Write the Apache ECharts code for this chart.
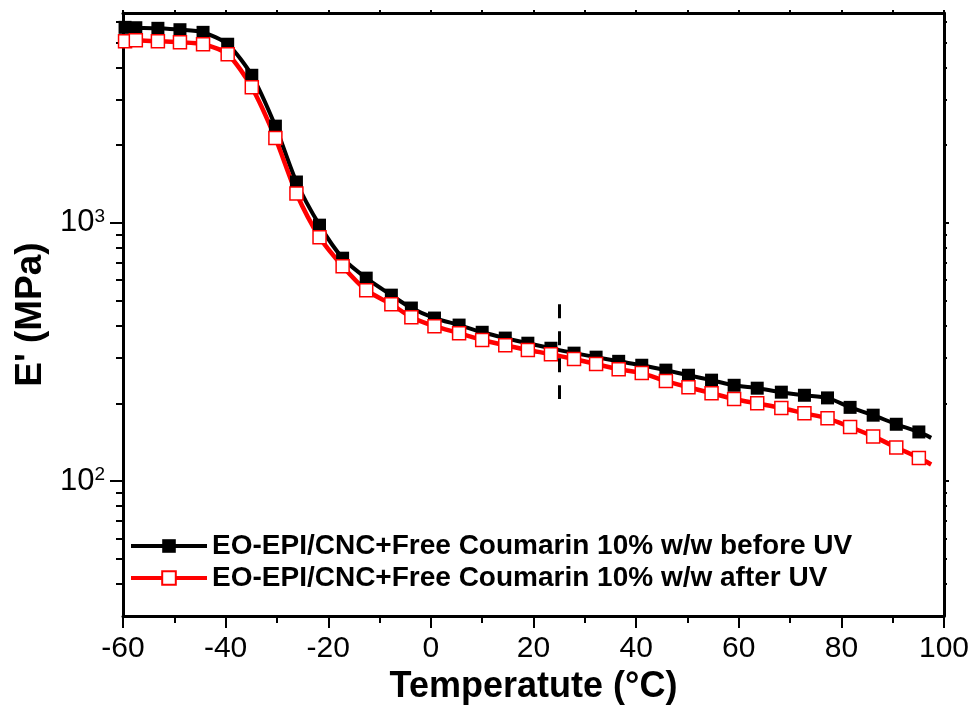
<!DOCTYPE html>
<html>
<head>
<meta charset="utf-8">
<title>E' vs temperature</title>
<script src="https://cdn.jsdelivr.net/npm/echarts@6.0.0/dist/echarts.min.js"></script>
<style>
  html, body { margin: 0; padding: 0; background: #fff; }
  #chart { width: 974px; height: 710px; }
</style>
</head>
<body>
<div id="chart"></div>
<script>
// Temperature (°C) of each plotted point
const temps = [-59.6, -57.5, -53.2, -48.9, -44.4, -39.6, -34.9, -30.3, -26.2, -21.7,
  -17.2, -12.6, -7.7, -3.8, 0.7, 5.5, 10.0, 14.5, 18.9, 23.4,
  27.9, 32.2, 36.6, 41.1, 45.8, 50.2, 54.7, 59.1, 63.6, 68.3,
  72.8, 77.3, 81.7, 86.2, 90.7, 95.1, 97.5];

// E' (MPa) before UV
const eBefore = [5720, 5700, 5670, 5600, 5470, 4920, 3730, 2370, 1440, 980,
  730, 611, 525, 468, 428, 402, 377, 358, 342, 327,
  313, 302, 291, 281, 269, 257, 246, 235, 229, 221,
  215, 210, 193, 180, 166, 155, 147];

// E' (MPa) after UV
const eAfter = [5050, 5100, 5050, 5010, 4920, 4500, 3350, 2130, 1300, 880,
  680, 549, 484, 431, 398, 374, 352, 336, 322, 310,
  297, 284, 271, 262, 244, 231, 219, 208, 200, 192,
  183, 175, 162, 149, 135, 123, 116];

const seriesNames = [
  'EO-EPI/CNC+Free Coumarin 10% w/w before UV',
  'EO-EPI/CNC+Free Coumarin 10% w/w after UV'
];

const majorY = [100, 1000];
const minorY = [40, 50, 60, 70, 80, 90, 200, 300, 400, 500, 600, 700, 800, 900,
  2000, 3000, 4000, 5000, 6000];

const FONT = 'Liberation Sans, Arial, sans-serif';

// last point closes the curve without a marker
function pairs(vals) {
  return temps.map(function (t, i) {
    const p = { value: [t, vals[i]] };
    if (i === temps.length - 1) p.symbol = 'none';
    return p;
  });
}

const chart = echarts.init(document.getElementById('chart'), null, { renderer: 'canvas' });

const yBase = { type: 'log', logBase: 10, min: 30, max: 6500, splitLine: { show: false } };

const option = {
  animation: false,
  backgroundColor: '#fff',
  grid: { left: 123, right: 30, top: 13, bottom: 93 },
  legend: {
    left: 124,
    top: 527,
    orient: 'vertical',
    itemWidth: 76,
    itemHeight: 17,
    itemGap: 4,
    lineStyle: { width: 4 },
    textStyle: { fontSize: 28, fontWeight: 'bold', color: '#000', fontFamily: FONT },
    data: seriesNames
  },
  xAxis: [
    {
      type: 'value', position: 'bottom', min: -60, max: 100, interval: 20,
      name: 'Temperatute (°C)', nameLocation: 'middle', nameGap: 52,
      nameTextStyle: { fontSize: 36, fontWeight: 'bold', color: '#000', fontFamily: FONT },
      axisLine: { onZero: false, lineStyle: { color: '#000', width: 3 } },
      axisTick: { length: 12, lineStyle: { color: '#000', width: 2 } },
      minorTick: { show: true, splitNumber: 2, length: 7, lineStyle: { color: '#000', width: 2 } },
      axisLabel: { fontSize: 30, color: '#000', fontFamily: FONT, margin: 18 },
      splitLine: { show: false }
    },
    {
      type: 'value', position: 'top', min: -60, max: 100, interval: 20,
      axisLine: { onZero: false, lineStyle: { color: '#000', width: 3 } },
      axisTick: { length: 3, lineStyle: { color: '#000', width: 2 } },
      minorTick: { show: true, splitNumber: 2, length: 3, lineStyle: { color: '#000', width: 2 } },
      axisLabel: { show: false },
      splitLine: { show: false }
    }
  ],
  yAxis: [
    Object.assign({}, yBase, {
      position: 'left',
      name: "E' (MPa)", nameLocation: 'middle', nameGap: 68,
      nameTextStyle: { fontSize: 37, fontWeight: 'bold', color: '#000', fontFamily: FONT },
      axisLine: { show: true, onZero: false, lineStyle: { color: '#000', width: 3 } },
      axisTick: { show: true, length: 13, customValues: majorY, lineStyle: { color: '#000', width: 2 } },
      axisLabel: {
        customValues: majorY, margin: 18, color: '#000',
        formatter: function (v) {
          return '{b|10}{s|' + Math.round(Math.log10(v)) + '}';
        },
        rich: {
          b: { fontSize: 31, fontFamily: FONT, color: '#000' },
          s: { fontSize: 19, fontFamily: FONT, color: '#000', verticalAlign: 'top' }
        }
      }
    }),
    Object.assign({}, yBase, {
      position: 'left',
      axisLine: { show: false, onZero: false },
      axisTick: { show: true, length: 7, customValues: minorY, lineStyle: { color: '#000', width: 2 } },
      axisLabel: { show: false }
    }),
    Object.assign({}, yBase, {
      position: 'right',
      axisLine: { show: true, onZero: false, lineStyle: { color: '#000', width: 3 } },
      axisTick: { show: true, length: 5, customValues: majorY, lineStyle: { color: '#000', width: 2 } },
      axisLabel: { show: false }
    }),
    Object.assign({}, yBase, {
      position: 'right',
      axisLine: { show: false, onZero: false },
      axisTick: { show: true, length: 3, customValues: minorY, lineStyle: { color: '#000', width: 2 } },
      axisLabel: { show: false }
    })
  ],
  series: [
    {
      name: seriesNames[0],
      type: 'line',
      smooth: 0.25,
      symbol: 'rect',
      symbolSize: 13,
      lineStyle: { color: '#000', width: 4 },
      itemStyle: { color: '#000' },
      data: pairs(eBefore),
      markLine: {
        silent: true,
        symbol: 'none',
        label: { show: false },
        lineStyle: { color: '#000', width: 3, type: [14, 13] },
        data: [[{ coord: [25, 484] }, { coord: [25, 208] }]]
      }
    },
    {
      name: seriesNames[1],
      type: 'line',
      smooth: 0.25,
      symbol: 'rect',
      symbolSize: 13,
      lineStyle: { color: '#ff0000', width: 4.5 },
      itemStyle: { color: '#fff', borderColor: '#ff0000', borderWidth: 1.5 },
      data: pairs(eAfter)
    }
  ]
};

chart.setOption(option);
</script>
</body>
</html>
